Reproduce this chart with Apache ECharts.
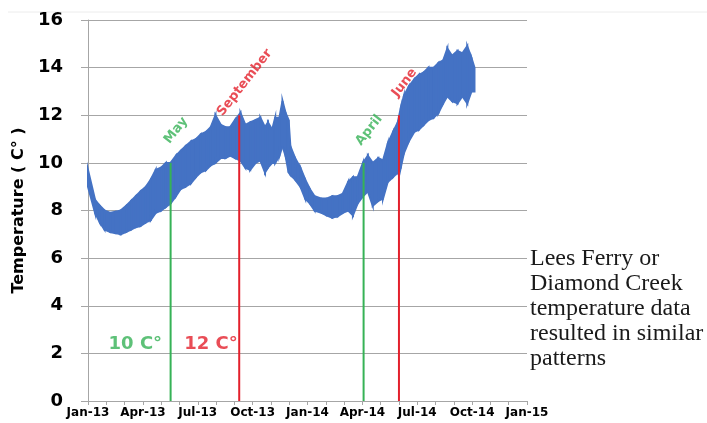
<!DOCTYPE html>
<html>
<head>
<meta charset="utf-8">
<script src="https://cdn.jsdelivr.net/npm/echarts@6/dist/echarts.min.js"></script>
<style>
  html, body { margin: 0; padding: 0; background: #fff; }
  #temp-chart { width: 707px; height: 423px; }
</style>
</head>
<body>
<div id="temp-chart"></div>
<script>
// readings of the noisy temperature band (low / high edge)
var bandDates = [
  '2013-01-01','2013-01-13','2013-01-21','2013-01-29','2013-02-07','2013-02-15','2013-02-23',
  '2013-03-04','2013-03-12','2013-03-20','2013-03-28','2013-04-06','2013-04-14','2013-04-22',
  '2013-05-01','2013-05-09','2013-05-17','2013-05-26','2013-06-03','2013-06-11','2013-06-20',
  '2013-06-28','2013-07-06','2013-07-15','2013-07-23','2013-07-31','2013-08-09','2013-08-17',
  '2013-08-25','2013-09-02','2013-09-11','2013-09-19','2013-09-27','2013-10-06','2013-10-14',
  '2013-10-22','2013-10-27','2013-11-03','2013-11-08','2013-11-15','2013-11-20','2013-11-25',
  '2013-11-30','2013-12-03','2013-12-11','2013-12-20','2013-12-28','2014-01-05','2014-01-13',
  '2014-01-25','2014-02-02','2014-02-11','2014-02-19','2014-02-27','2014-03-08','2014-03-16',
  '2014-03-24','2014-04-02','2014-04-10','2014-04-18','2014-04-27','2014-05-05','2014-05-13',
  '2014-05-22','2014-05-30','2014-06-04','2014-06-09','2014-06-17','2014-06-26','2014-07-04',
  '2014-07-12','2014-07-20','2014-07-29','2014-08-06','2014-08-14','2014-08-21','2014-08-29',
  '2014-09-07','2014-09-15','2014-09-23','2014-09-30','2014-10-05'
];
var bandLow = [
  9.0, 7.9, 7.5, 7.2, 7.1, 7.05, 7.0,
  7.1, 7.2, 7.3, 7.35, 7.5, 7.6, 7.9,
  8.0, 8.15, 8.3, 8.6, 8.9, 9.0, 9.15,
  9.4, 9.6, 9.7, 9.9, 10.0, 10.2, 10.2,
  10.3, 10.2, 10.1, 9.8, 9.7, 10.0, 10.1,
  9.6, 9.8, 10.0, 10.0, 10.3, 10.7, 10.3,
  9.6, 9.5, 9.3, 9.0, 8.5, 8.3, 8.0,
  7.9, 7.8, 7.7, 7.75, 7.9, 8.0, 7.8,
  8.3, 8.6, 8.8, 8.2, 8.4, 8.5, 9.2,
  9.4, 9.6, 9.8, 10.4, 10.9, 11.3, 11.4,
  11.6, 11.8, 11.9, 12.1, 12.5, 12.8, 12.6,
  12.5, 12.8, 12.5, 13.0, 13.0
];
var bandHigh = [
  9.7, 8.45, 8.2, 8.0, 7.9, 7.95, 8.0,
  8.2, 8.4, 8.6, 8.8, 9.0, 9.3, 9.7,
  9.8, 10.0, 10.0, 10.3, 10.5, 10.7, 10.9,
  11.0, 11.2, 11.3, 11.5, 12.0, 11.6, 11.5,
  11.5, 11.8, 12.1, 11.6, 11.7, 11.8, 11.9,
  11.5, 11.7, 11.4, 11.9, 11.9, 12.6, 12.1,
  11.8, 10.7, 10.2, 9.8, 9.3, 8.9, 8.6,
  8.5, 8.5, 8.6, 8.6, 8.7, 9.2, 9.4,
  9.4, 10.0, 10.3, 10.0, 10.2, 10.1, 10.8,
  11.3, 11.7, 12.3, 12.8, 13.2, 13.5, 13.7,
  13.8, 14.0, 14.0, 14.2, 14.3, 14.8, 14.5,
  14.7, 14.6, 14.9, 14.4, 14.0
];

// vertical marker lines
var markerDates = ['2013-05-17', '2013-09-09', '2014-04-03', '2014-06-01'];
var markerTops = [10, 12, 10, 12];
var markerNames = ['May', 'September', 'April', 'June'];

// threshold captions near the bottom
var thresholdNames = ['10 C°', '12 C°'];
var thresholdLevel = 2.4;

var tickNames = ['Jan-13','Apr-13','Jul-13','Oct-13','Jan-14','Apr-14','Jul-14','Oct-14','Jan-15'];
var noteLines = ['Lees Ferry or', 'Diamond Creek', 'temperature data', 'resulted in similar', 'patterns'];

var green = '#36b256';
var red = '#e3202c';
var markerColors = [green, red, green, red];
var blue = '#4472c4';

// months since Jan 2013, fractional
function monthPos(s) {
  var p = s.split('-').map(Number);
  var dim = new Date(p[0], p[1], 0).getDate();
  return (p[0] - 2013) * 12 + (p[1] - 1) + (p[2] - 1) / dim;
}

var chart = echarts.init(document.getElementById('temp-chart'));

var bandRows = bandDates.map(function (d, i) { return [monthPos(d), bandLow[i], bandHigh[i]]; });

var series = [
  {
    name: 'band',
    type: 'custom',
    silent: true,
    encode: { x: 0, y: [1, 2] },
    data: bandRows,
    renderItem: function (params, api) {
      var i = params.dataIndex;
      if (i >= bandRows.length - 1) return;
      var a = bandRows[i], b = bandRows[i + 1];
      var pts = [
        api.coord([a[0], a[1]]),
        api.coord([b[0], b[1]]),
        api.coord([b[0], b[2]]),
        api.coord([a[0], a[2]])
      ];
      return {
        type: 'polygon',
        shape: { points: pts },
        style: { fill: blue, stroke: blue, lineWidth: 2 }
      };
    },
    z: 2
  }
];

markerDates.forEach(function (d, i) {
  series.push({
    type: 'line',
    symbol: 'none',
    silent: true,
    lineStyle: { color: markerColors[i], width: 2 },
    data: [[monthPos(d), 0], [monthPos(d), markerTops[i]]],
    z: 5
  });
  series.push({
    type: 'scatter',
    symbolSize: 1,
    silent: true,
    itemStyle: { color: 'transparent' },
    label: {
      show: true,
      formatter: markerNames[i],
      position: [6, -32],
      align: 'center',
      verticalAlign: 'middle',
      rotate: 52,
      color: markerColors[i],
      fontFamily: 'DejaVu Sans',
      fontWeight: 'bold',
      fontSize: 13
    },
    data: [[monthPos(d), markerTops[i]]],
    z: 6
  });
});

thresholdNames.forEach(function (t, i) {
  series.push({
    type: 'scatter',
    symbolSize: 1,
    silent: true,
    itemStyle: { color: 'transparent' },
    label: {
      show: true,
      formatter: t,
      position: 'left',
      distance: i === 0 ? 8 : 1,
      color: markerColors[i],
      fontFamily: 'DejaVu Sans',
      fontWeight: 'bold',
      fontSize: 18
    },
    data: [[monthPos(markerDates[i]), thresholdLevel]],
    z: 6
  });
});

var option = {
  animation: false,
  grid: { left: 88, right: 180, top: 20, bottom: 22, outerBoundsMode: 'none' },
  xAxis: {
    type: 'value',
    min: 0,
    max: 24,
    interval: 1,
    axisLine: { lineStyle: { color: '#a6a6a6' } },
    axisTick: { length: 4, lineStyle: { color: '#a6a6a6' } },
    splitLine: { show: false },
    axisLabel: {
      margin: 6,
      color: '#000',
      fontFamily: 'DejaVu Sans',
      fontWeight: 'bold',
      fontSize: 12,
      showMinLabel: true,
      showMaxLabel: true,
      formatter: function (v) { return v % 3 === 0 ? tickNames[v / 3] : ''; }
    }
  },
  yAxis: {
    type: 'value',
    min: 0,
    max: 16,
    interval: 2,
    name: 'Temperature ( C° )',
    nameLocation: 'middle',
    nameGap: 60,
    nameTextStyle: { color: '#000', fontFamily: 'DejaVu Sans', fontWeight: 'bold', fontSize: 16 },
    axisLine: { show: true, lineStyle: { color: '#a6a6a6' } },
    axisTick: { show: true, length: 7, lineStyle: { color: '#a6a6a6' } },
    splitLine: { lineStyle: { color: '#a6a6a6' } },
    axisLabel: {
      margin: 25,
      color: '#000',
      fontFamily: 'DejaVu Sans',
      fontWeight: 'bold',
      fontSize: 18
    }
  },
  graphic: [
    {
      type: 'line',
      shape: { x1: 8, y1: 12, x2: 707, y2: 12 },
      style: { stroke: '#ececec', lineWidth: 1 },
      silent: true
    },
    {
      type: 'text',
      left: 530,
      top: 246,
      style: {
        text: noteLines.join('\n'),
        font: '24px "Liberation Serif"',
        lineHeight: 25,
        fill: '#1a1a1a'
      },
      silent: true
    }
  ],
  series: series
};

chart.setOption(option);
</script>
</body>
</html>
